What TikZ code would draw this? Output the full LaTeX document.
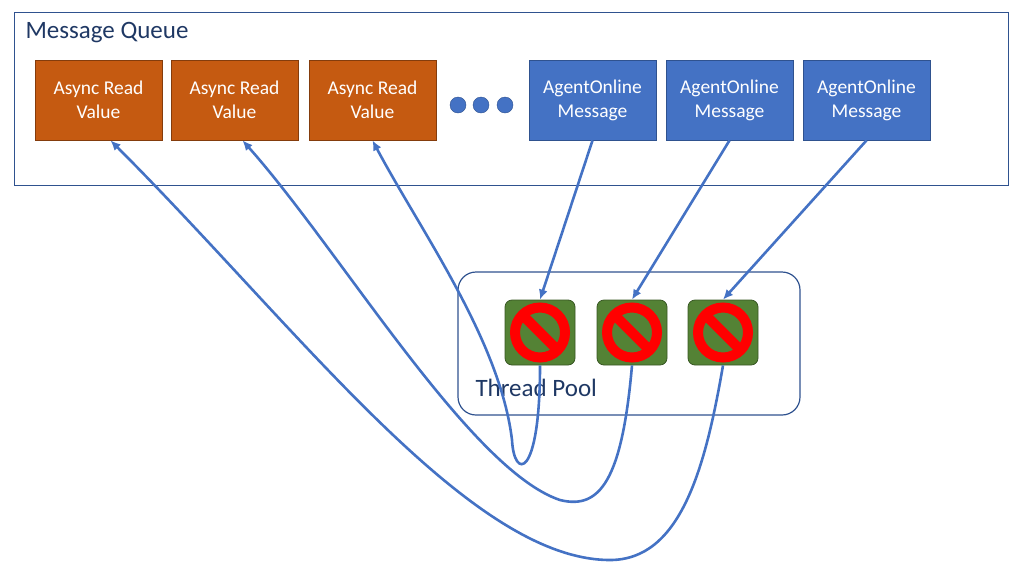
\documentclass[tikz,border=0pt]{standalone}
\usepackage{fontspec}
\setmainfont{Carlito}
\usetikzlibrary{arrows.meta}
\definecolor{org}{HTML}{C55A11}\definecolor{orgb}{HTML}{843C0C}
\definecolor{blu}{HTML}{4472C4}\definecolor{blub}{HTML}{2F528F}
\definecolor{grn}{HTML}{548235}\definecolor{grnb}{HTML}{385723}
\definecolor{txt}{HTML}{1F3864}
\begin{document}
\begin{tikzpicture}[x=1pt,y=-1pt,
  msg/.style={draw=#1,line width=0.8pt,minimum width=127pt,minimum height=80pt,text=white,align=center,font=\fontsize{19.5}{24}\selectfont,inner sep=0pt},
  thr/.style={draw=grnb,fill=grn,rounded corners=7pt,minimum width=70pt,minimum height=65pt,line width=0.8pt},
  ln/.style={draw=blu,line width=2.6pt},
  arr/.style={ln,-{Latex[length=10pt,width=9pt]}}]
\useasboundingbox (0,0) rectangle (1024,571);
\node[draw=blub,line width=1.2pt,minimum width=994pt,minimum height=173pt,anchor=north west] (q) at (14,12) {};
\node[anchor=west,text=txt,font=\fontsize{25}{30}\selectfont] (qt) at (22,33) {Message Queue};
\node[msg=orgb,fill=org] (o1) at (98.5,100) {Async Read\\Value};
\node[msg=orgb,fill=org] (o2) at (234.5,100) {Async Read\\Value};
\node[msg=orgb,fill=org] (o3) at (372.5,100) {Async Read\\Value};
\node[msg=blub,fill=blu] (b1) at (592.5,100) {AgentOnline\\Message};
\node[msg=blub,fill=blu] (b2) at (729.5,100) {AgentOnline\\Message};
\node[msg=blub,fill=blu] (b3) at (866.5,100) {AgentOnline\\Message};
\foreach \x/\n in {458/d1,481/d2,505/d3} \node[circle,fill=blu,draw=blub,minimum size=16pt,inner sep=0pt] (\n) at (\x,105) {};
\node[draw=blub,line width=1.2pt,rounded corners=18pt,minimum width=342pt,minimum height=143pt] (tp) at (629,343.5) {};
\node[anchor=west,text=txt,font=\fontsize{25}{30}\selectfont] (tpt) at (472,388) {Thread Pool};
\foreach \x/\n in {540/t1,632/t2,723/t3}{
  \node[thr] (\n) at (\x,332.5) {};
  \draw[red,line width=10pt] (\x,332.5) circle (25);
  \draw[red,line width=10pt] (\x-18,314.5) -- (\x+18,350.5);
}
\draw[arr] (b1.south) -- (t1.north);
\draw[arr] (b2.south) -- (t2.north);
\draw[arr] (b3.south) -- (t3.north);
\coordinate (c1) at (512,440);
\coordinate (c2) at (560,500);
\coordinate (c3) at (610,560);
\draw[arr] (t1.south) .. controls (540,480) and (514,480) .. (c1) .. controls (500,340) and (420,230) .. (o3.south);
\draw[arr] (t2.south) .. controls (622,480) and (600,510) .. (c2) .. controls (470,470) and (340,250) .. ([xshift=8pt]o2.south);
\draw[arr] (t3.south) .. controls (705,470) and (680,560) .. (c3) .. controls (470,560) and (300,330) .. ([xshift=12pt]o1.south);
\end{tikzpicture}
\end{document}
